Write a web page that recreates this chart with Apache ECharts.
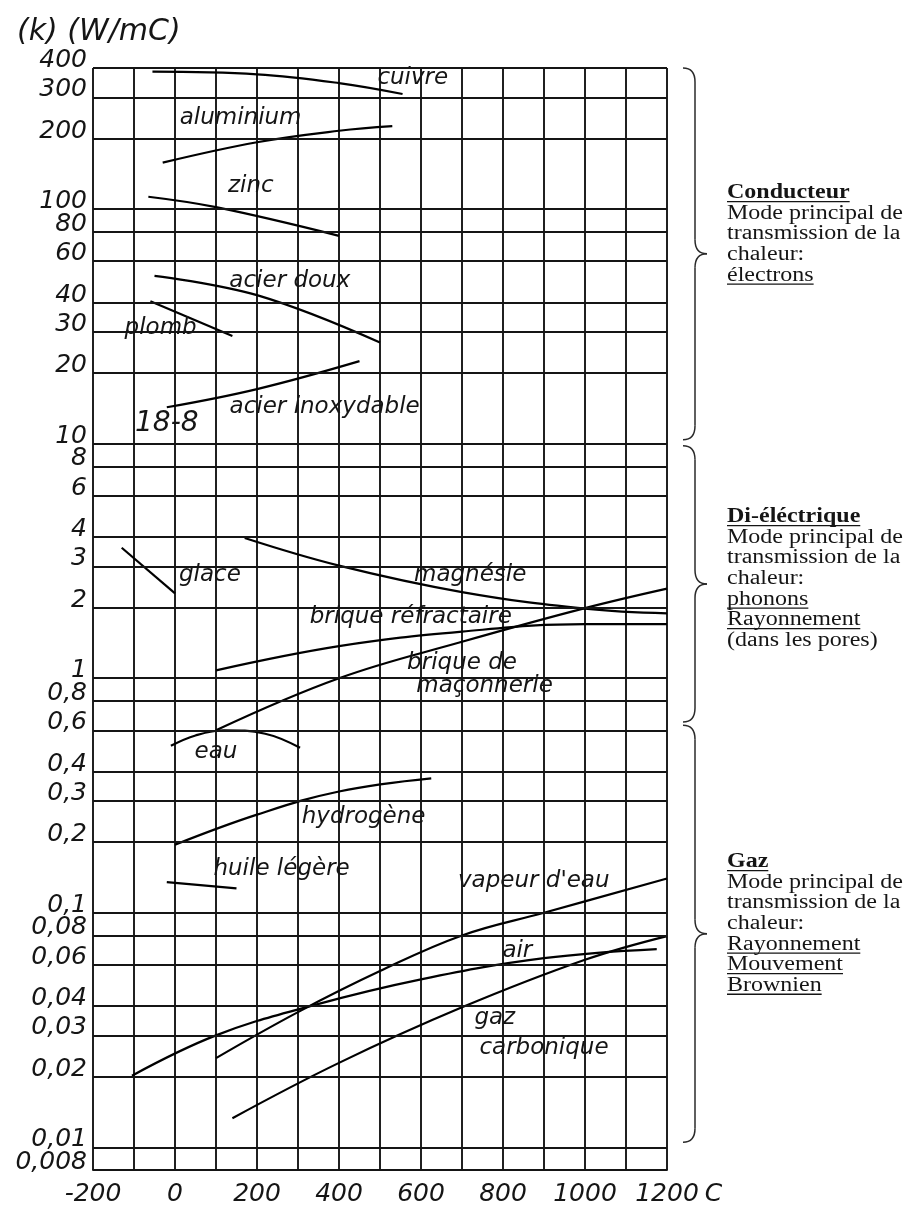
<!DOCTYPE html>
<html>
<head>
<meta charset="utf-8">
<title>Conductivité thermique</title>
<script src="https://cdn.jsdelivr.net/npm/echarts@6.0.0/dist/echarts.min.js"></script>
<style>
  html, body { margin: 0; padding: 0; background: #fff; }
  #chart { width: 907px; height: 1220px; }
</style>
</head>
<body>
<div id="chart"></div>
<script>
// horizontal grid lines of the log paper (also the y labels)
const yGrid = [400, 300, 200, 100, 80, 60, 40, 30, 20, 10, 8, 6, 4, 3, 2, 1,
  0.8, 0.6, 0.4, 0.3, 0.2, 0.1, 0.08, 0.06, 0.04, 0.03, 0.02, 0.01, 0.008];

// [température °C, k W/mC]
const cuivre = [[-55, 386], [200, 376], [400, 345], [555, 310]];
const aluminium = [[-30, 158], [200, 193], [400, 216], [530, 226]];
const zinc = [[-65, 113], [100, 102], [400, 77]];
const acierDoux = [[-50, 52], [200, 43], [500, 27]];
const plomb = [[-60, 40.5], [140, 28.8]];
const inox = [[-20, 14.3], [200, 17.1], [450, 22.5]];
const glace = [[-130, 3.6], [0, 2.3]];
const magnesie = [[170, 3.96], [400, 3.02], [700, 2.33], [1000, 1.98], [1200, 1.89]];
const refractaire = [[100, 1.08], [400, 1.37], [700, 1.58], [1000, 1.7], [1200, 1.7]];
const maconnerie = [[100, 0.6], [400, 1.0], [700, 1.43], [1000, 1.99], [1200, 2.41]];
const eau = [[-10, 0.515], [50, 0.57], [120, 0.6], [220, 0.58], [305, 0.505]];
const hydrogene = [[0, 0.195], [200, 0.262], [400, 0.329], [625, 0.374]];
const huile = [[-20, 0.135], [150, 0.127]];
const vapeur = [[100, 0.024], [300, 0.0377], [500, 0.0564], [700, 0.08], [900, 0.1], [1200, 0.14]];
const air = [[-105, 0.0202], [100, 0.03], [330, 0.04], [600, 0.052], [900, 0.064], [1175, 0.07]];
const co2 = [[140, 0.0133], [400, 0.0229], [700, 0.0395], [1000, 0.063], [1200, 0.0795]];

const curves = [
  ['cuivre', cuivre], ['aluminium', aluminium], ['zinc', zinc], ['acier doux', acierDoux],
  ['plomb', plomb], ['acier inoxydable', inox], ['glace', glace], ['magnésie', magnesie],
  ['brique réfractaire', refractaire], ['brique de maçonnerie', maconnerie], ['eau', eau],
  ['hydrogène', hydrogene], ['huile légère', huile], ["vapeur d'eau", vapeur], ['air', air],
  ['gaz carbonique', co2]
];

const handFont = 'DejaVu Sans';
const ink = '#151515';

// hand written names on the paper, anchored in data units
const notes = [
  ['cuivre', 580, 362], ['aluminium', 160, 245], ['zinc', 185, 125], ['acier doux', 280, 49.6],
  ['plomb', -35, 31], ['18-8', -20, 12.2], ['acier inoxydable', 365, 14.3], ['glace', 85, 2.75],
  ['magnésie', 720, 2.75], ['brique réfractaire', 575, 1.82], ['brique de', 700, 1.16],
  ['maçonnerie', 755, 0.93], ['eau', 100, 0.485], ['hydrogène', 460, 0.256],
  ['huile légère', 260, 0.154], ["vapeur d'eau", 875, 0.137], ['air', 835, 0.069],
  ['gaz', 780, 0.0357], ['carbonique', 900, 0.0265]
];

function frNum(v) {
  return String(v).replace('.', ',');
}

const chart = echarts.init(document.getElementById('chart'));
const paperLine = { color: ink, width: 1.9, type: 'solid' };

const option = {
  animation: false,
  backgroundColor: '#fff',
  title: {
    text: '(k) (W/mC)',
    left: 12,
    top: 12,
    textStyle: { fontFamily: handFont, fontStyle: 'italic', fontWeight: 'normal', fontSize: 30, color: ink }
  },
  grid: { left: 93, right: 240, top: 68, bottom: 50 },
  xAxis: {
    type: 'value',
    min: -200,
    max: 1200,
    interval: 100,
    name: 'C',
    nameLocation: 'end',
    nameGap: 26,
    nameTextStyle: {
      fontFamily: handFont, fontStyle: 'italic', fontSize: 25, color: ink,
      verticalAlign: 'top', padding: [12, 0, 0, 0]
    },
    axisLine: { show: true, lineStyle: paperLine },
    axisTick: { show: false },
    axisLabel: {
      margin: 12,
      showMinLabel: true,
      showMaxLabel: true,
      fontFamily: handFont,
      fontStyle: 'italic',
      fontSize: 25,
      color: ink,
      formatter: v => (v % 200 === 0 ? String(v) : '')
    },
    splitLine: { show: true, lineStyle: paperLine }
  },
  yAxis: {
    type: 'log',
    logBase: 10,
    min: 0.008,
    max: 400,
    axisLine: { show: false },
    axisTick: { show: false },
    axisLabel: { show: false },
    splitLine: { show: false }
  },
  series: [
    {
      name: 'papier',
      type: 'line',
      data: [],
      silent: true,
      markLine: {
        silent: true,
        precision: 4,
        symbol: ['none', 'none'],
        lineStyle: paperLine,
        label: {
          show: true,
          position: 'start',
          distance: 6,
          // second empty line lifts the number a little above its line, as on the paper
          formatter: p => '{t|' + p.name + '}\n{s|}',
          rich: {
            t: { fontFamily: handFont, fontStyle: 'italic', fontSize: 25, color: ink, lineHeight: 26 },
            s: { fontSize: 2, lineHeight: 15 }
          }
        },
        emphasis: { disabled: true },
        data: yGrid.map(v => ({ name: frNum(v), yAxis: v }))
      },
      markPoint: {
        silent: true,
        symbol: 'circle',
        symbolSize: 1,
        itemStyle: { color: 'rgba(0,0,0,0)' },
        label: {
          show: true,
          position: 'inside',
          formatter: p => p.name,
          fontFamily: handFont,
          fontStyle: 'italic',
          fontSize: 23,
          color: ink
        },
        data: notes.map(([text, x, y]) => ({
          name: text,
          coord: [x, y],
          label: text === '18-8' ? { fontSize: 28 } : undefined
        }))
      }
    }
  ].concat(curves.map(([name, pts]) => ({
    name,
    type: 'line',
    data: pts,
    showSymbol: false,
    smooth: 0.4,
    silent: true,
    z: 3,
    lineStyle: { color: '#000', width: 2.2 }
  })))
};

chart.setOption(option);

// accolades + texte explicatif a droite
const braceSpans = [[400, 10.4], [9.8, 0.65], [0.63, 0.0105]];
const braceStyle = { stroke: '#2a2a2a', lineWidth: 1.5, fill: null };

function braceParts(yTop, yBot) {
  const x0 = 683, x1 = 695, x2 = 707, r = 14;
  const mid = (yTop + yBot) / 2;
  const curve = (a, b, c, d, cx, cy) => ({
    type: 'bezierCurve', silent: true,
    shape: { x1: a, y1: b, x2: c, y2: d, cpx1: cx, cpy1: cy }, style: braceStyle
  });
  const seg = (a, b, c, d) => ({
    type: 'line', silent: true,
    shape: { x1: a, y1: b, x2: c, y2: d }, style: braceStyle
  });
  return [
    curve(x0, yTop, x1, yTop + r, x1, yTop),
    seg(x1, yTop + r, x1, mid - r),
    curve(x1, mid - r, x2, mid, x1, mid),
    curve(x2, mid, x1, mid + r, x1, mid),
    seg(x1, mid + r, x1, yBot - r),
    curve(x1, yBot - r, x0, yBot, x1, yBot)
  ];
}

const sideNotes = [
  { top: 193, lines: [['Conducteur', 'b'], ['Mode principal de'], ['transmission de la'], ['chaleur:'], ['électrons', 'u']] },
  { top: 517, lines: [['Di-éléctrique', 'b'], ['Mode principal de'], ['transmission de la'], ['chaleur:'],
    ['phonons', 'u'], ['Rayonnement', 'u'], ['(dans les pores)']] },
  { top: 862, lines: [['Gaz', 'b'], ['Mode principal de'], ['transmission de la'], ['chaleur:'],
    ['Rayonnement', 'u'], ['Mouvement', 'u'], ['Brownien', 'u']] }
];

const measureCtx = document.createElement('canvas').getContext('2d');
function textWidth(str, font) {
  measureCtx.font = font;
  return measureCtx.measureText(str).width;
}

function sideBlock(block) {
  const children = [];
  block.lines.forEach(([str, kind], i) => {
    const font = (kind === 'b' ? 'bold ' : '') + '20px "Liberation Serif"';
    const y = i * 20.6;
    children.push({
      type: 'text',
      x: 0,
      y,
      silent: true,
      style: { text: str, font, fill: ink, textAlign: 'left', textVerticalAlign: 'middle', align: 'left', verticalAlign: 'middle' }
    });
    if (kind) {
      children.push({
        type: 'rect',
        silent: true,
        shape: { x: 0, y: y + 8, width: textWidth(str, font), height: 1.3 },
        style: { fill: ink }
      });
    }
  });
  return { type: 'group', x: 727, y: block.top, scaleX: 1.2, children };
}

let graphics = [];
braceSpans.forEach(([hi, lo]) => {
  const yTop = chart.convertToPixel({ yAxisIndex: 0 }, hi);
  const yBot = chart.convertToPixel({ yAxisIndex: 0 }, lo);
  graphics = graphics.concat(braceParts(yTop, yBot));
});
graphics = graphics.concat(sideNotes.map(sideBlock));

chart.setOption({ graphic: { elements: graphics } });
</script>
</body>
</html>
